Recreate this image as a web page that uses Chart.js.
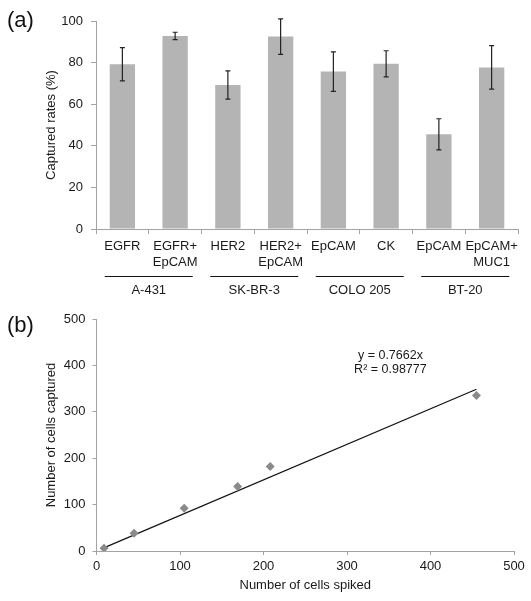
<!DOCTYPE html>
<html><head><meta charset="utf-8">
<script src="https://cdn.jsdelivr.net/npm/chart.js@4.4.1/dist/chart.umd.min.js"></script>
<style>
html,body{margin:0;padding:0;background:#fff;width:531px;height:601px;overflow:hidden;}
.panel{position:absolute;left:0;width:531px;}
#wa{top:0;height:300px;}
#wb{top:300px;height:301px;}
.plabel{position:absolute;font-family:"Liberation Sans",Arial,sans-serif;font-size:22px;color:#111;line-height:26px;}
</style></head><body>
<div class="panel" id="wa"><canvas id="ca" width="531" height="300"></canvas></div>
<div class="panel" id="wb"><canvas id="cb" width="531" height="301"></canvas></div>
<div class="plabel" style="left:7px;top:7px">(a)</div>
<div class="plabel" style="left:7px;top:312px">(b)</div>
<script>
// ---- Panel (a) data ----
const categories = [["EGFR"],["EGFR+","EpCAM"],["HER2"],["HER2+","EpCAM"],["EpCAM"],["CK"],["EpCAM"],["EpCAM+","MUC1"]];
const captureRates = [79.2, 92.8, 69.2, 92.5, 75.7, 79.4, 45.5, 77.7];
const errorValues = [8.0, 1.8, 6.8, 8.5, 9.5, 6.3, 7.5, 10.5];
const groupNames = ["A-431", "SK-BR-3", "COLO 205", "BT-20"];
const groupStart = [0, 2, 4, 6];
const groupEnd = [1, 3, 5, 7];
const yTicksA = [0, 20, 40, 60, 80, 100];

// ---- Panel (b) data ----
const spikedCells = [9, 45, 105, 169, 208, 455];
const capturedCells = [6, 38, 92, 139, 182, 335];
const trendSlope = 0.7662;
const trendRange = [8, 455];
const trendText = ["y = 0.7662x", "R\u00B2 = 0.98777"];
const ticksB = [0, 100, 200, 300, 400, 500];

const FONT = "'Liberation Sans', Arial, Helvetica, sans-serif";
const AXIS = '#a3a3a3';
const TEXT = '#1a1a1a';
Chart.defaults.font.family = FONT;
Chart.defaults.font.size = 13;
Chart.defaults.color = TEXT;

const errorBarPlugin = {
  id: 'errorBars',
  afterDatasetsDraw(chart) {
    const {ctx, scales: {x, y}} = chart;
    ctx.save();
    ctx.strokeStyle = '#222';
    ctx.lineWidth = 1.2;
    captureRates.forEach((v, i) => {
      const px = x.getPixelForValue(i);
      const hi = y.getPixelForValue(v + errorValues[i]);
      const lo = y.getPixelForValue(v - errorValues[i]);
      ctx.beginPath();
      ctx.moveTo(px, hi); ctx.lineTo(px, lo);
      ctx.moveTo(px - 2.5, hi); ctx.lineTo(px + 2.5, hi);
      ctx.moveTo(px - 2.5, lo); ctx.lineTo(px + 2.5, lo);
      ctx.stroke();
    });
    ctx.restore();
  }
};

const groupPlugin = {
  id: 'groups',
  afterDraw(chart) {
    const {ctx, chartArea, scales: {x}} = chart;
    ctx.save();
    ctx.strokeStyle = '#111';
    ctx.lineWidth = 1;
    ctx.fillStyle = TEXT;
    ctx.font = '13px ' + FONT;
    ctx.textAlign = 'center';
    ctx.textBaseline = 'middle';
    groupNames.forEach((g, k) => {
      const c = (x.getPixelForValue(groupStart[k]) + x.getPixelForValue(groupEnd[k])) / 2;
      const ly = Math.round(chartArea.bottom + 47) + 0.5;
      ctx.beginPath();
      ctx.moveTo(c - 44, ly); ctx.lineTo(c + 44, ly);
      ctx.stroke();
      ctx.fillText(g, c, chartArea.bottom + 61);
    });
    ctx.restore();
  }
};

new Chart(document.getElementById('ca'), {
  type: 'bar',
  data: {
    labels: categories,
    datasets: [{
      data: captureRates,
      backgroundColor: '#b4b4b4',
      borderWidth: 0,
      barPercentage: 0.48,
      categoryPercentage: 1.0
    }]
  },
  options: {
    responsive: false,
    devicePixelRatio: 1,
    animation: false,
    events: [],
    layout: {padding: {left: 36, top: 21, right: 13, bottom: 0}},
    plugins: {legend: {display: false}, tooltip: {enabled: false}},
    scales: {
      x: {
        grid: {display: true, drawOnChartArea: false, drawTicks: true, tickLength: 5, color: AXIS, offset: true},
        border: {display: true, color: AXIS, width: 1},
        ticks: {padding: 5, maxRotation: 0, autoSkip: false, color: TEXT, font: {size: 13}},
        afterFit(s) { s.height = 71; }
      },
      y: {
        min: 0, max: 100,
        afterBuildTicks(s) { s.ticks = yTicksA.map(v => ({value: v})); },
        grid: {display: true, drawOnChartArea: false, drawTicks: true, tickLength: 5, color: AXIS},
        border: {display: true, color: AXIS, width: 1},
        ticks: {padding: 8, color: TEXT, font: {size: 13}},
        title: {display: true, text: 'Captured rates (%)', color: TEXT, font: {size: 13}, padding: {top: 8, bottom: 0}},
        afterFit(s) { s.width = 60; }
      }
    }
  },
  plugins: [errorBarPlugin, groupPlugin]
});

const annotationPlugin = {
  id: 'trendText',
  afterDraw(chart) {
    const {ctx, scales: {x, y}} = chart;
    ctx.save();
    ctx.fillStyle = TEXT;
    ctx.font = '12.5px ' + FONT;
    ctx.textAlign = 'center';
    ctx.textBaseline = 'middle';
    const cx = x.getPixelForValue(352);
    ctx.fillText(trendText[0], cx, y.getPixelForValue(422));
    ctx.fillText(trendText[1], cx, y.getPixelForValue(392));
    ctx.restore();
  }
};

new Chart(document.getElementById('cb'), {
  type: 'scatter',
  data: {
    datasets: [
      {
        type: 'line',
        data: trendRange.map(v => ({x: v, y: trendSlope * v})),
        borderColor: '#111',
        borderWidth: 1.2,
        pointRadius: 0,
        fill: false,
        order: 2
      },
      {
        data: spikedCells.map((v, i) => ({x: v, y: capturedCells[i]})),
        pointStyle: 'rectRot',
        pointRadius: 4.5,
        backgroundColor: '#8a8a8a',
        borderColor: '#8a8a8a',
        borderWidth: 0,
        order: 1
      }
    ]
  },
  options: {
    responsive: false,
    devicePixelRatio: 1,
    animation: false,
    events: [],
    layout: {padding: {left: 36, top: 19, right: 17, bottom: 0}},
    plugins: {legend: {display: false}, tooltip: {enabled: false}},
    scales: {
      x: {
        type: 'linear', min: 0, max: 500,
        afterBuildTicks(s) { s.ticks = ticksB.map(v => ({value: v})); },
        grid: {display: true, drawOnChartArea: false, drawTicks: true, tickLength: 4, color: AXIS},
        border: {display: true, color: AXIS, width: 1},
        ticks: {padding: 4, maxRotation: 0, color: TEXT, font: {size: 13}},
        title: {display: true, text: 'Number of cells spiked', color: TEXT, font: {size: 13}, padding: {top: 0, bottom: 8}},
        afterFit(s) { s.height = 50; }
      },
      y: {
        type: 'linear', min: 0, max: 500,
        afterBuildTicks(s) { s.ticks = ticksB.map(v => ({value: v})); },
        grid: {display: true, drawOnChartArea: false, drawTicks: true, tickLength: 4, color: AXIS},
        border: {display: true, color: AXIS, width: 1},
        ticks: {padding: 7, color: TEXT, font: {size: 13}},
        title: {display: true, text: 'Number of cells captured', color: TEXT, font: {size: 13}, padding: {top: 8, bottom: 0}},
        afterFit(s) { s.width = 60.5; }
      }
    }
  },
  plugins: [annotationPlugin]
});
</script>
</body></html>
